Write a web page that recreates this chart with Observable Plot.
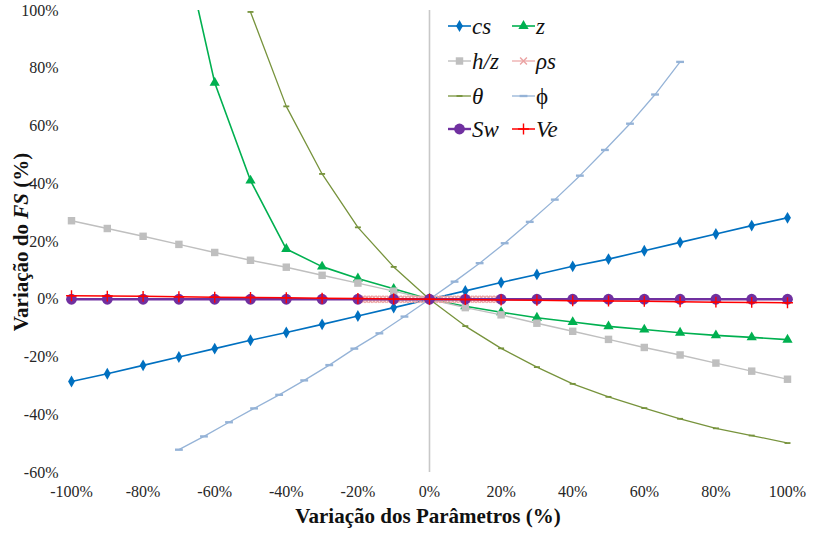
<!DOCTYPE html>
<html>
<head>
<meta charset="utf-8">
<script src="https://cdn.jsdelivr.net/npm/d3@7"></script>
<script src="https://cdn.jsdelivr.net/npm/@observablehq/plot@0.6"></script>
<style>
  html, body { margin: 0; padding: 0; background: #fff; }
  #chart { width: 813px; height: 533px; }
</style>
</head>
<body>
<div id="chart"></div>
<script>
// ---- Data ----
const xTicks = [-100, -80, -60, -40, -20, 0, 20, 40, 60, 80, 100];
const yTicks = [-60, -40, -20, 0, 20, 40, 60, 80, 100];

const x10 = [-100, -90, -80, -70, -60, -50, -40, -30, -20, -10, 0, 10, 20, 30, 40, 50, 60, 70, 80, 90, 100];
const csVals = [-28.5, -25.8, -22.9, -20.0, -17.1, -14.2, -11.5, -8.7, -5.8, -2.9, 0, 2.9, 5.8, 8.6, 11.4, 13.9, 16.8, 19.7, 22.6, 25.5, 28.2];
const hzVals = [27.2, 24.5, 21.8, 19.0, 16.2, 13.5, 11.1, 8.3, 5.6, 2.8, 0, -2.9, -5.4, -8.3, -11.1, -13.9, -16.7, -19.3, -22.1, -24.9, -27.7];
const swVals = [0, 0, 0, 0, 0, 0, 0, 0, 0, 0, 0, 0, 0, 0, 0, 0, 0, 0, 0, 0, 0];
const veVals = [1.2, 1.1, 1.0, 0.85, 0.7, 0.6, 0.5, 0.35, 0.25, 0.1, 0, -0.1, -0.25, -0.35, -0.5, -0.6, -0.7, -0.85, -1.0, -1.1, -1.2];

const zX = [-70, -60, -50, -40, -30, -20, -10, 0, 10, 20, 30, 40, 50, 60, 70, 80, 90, 100];
const zVals = [130, 75.0, 41.1, 17.4, 11.3, 7.2, 3.6, 0, -2.4, -4.5, -6.4, -7.9, -9.4, -10.5, -11.6, -12.5, -13.2, -14.0];

const thetaX = [-50, -40, -30, -20, -10, 0, 10, 20, 30, 40, 50, 60, 70, 80, 90, 100];
const thetaVals = [99.5, 66.8, 43.4, 24.9, 11.2, 0, -9.3, -17.0, -23.5, -29.3, -33.8, -37.7, -41.4, -44.7, -47.2, -49.8];

const phiX = [-70, -63, -56, -49, -42, -35, -28, -21, -14, -7, 0, 7, 14, 21, 28, 35, 42, 49, 56, 63, 70];
const phiVals = [-52.1, -47.5, -42.6, -37.8, -33.1, -28.1, -22.8, -17.1, -11.8, -6.0, 0, 6.1, 12.5, 19.4, 26.8, 34.5, 42.8, 51.7, 60.8, 70.9, 82.2];

const rhoX = [-20, -19, -18, -17, -16, -15, -14, -13, -12, -11, -10, -9, -8, -7, -6, -5, -4, -3, -2, -1, 0, 1, 2, 3, 4, 5, 6, 7, 8, 9, 10, 11, 12, 13, 14, 15, 16, 17, 18, 19, 20];
const rhoVals = [0, 0, 0, 0, 0, 0, 0, 0, 0, 0, 0, 0, 0, 0, 0, 0, 0, 0, 0, 0, 0, 0, 0, 0, 0, 0, 0, 0, 0, 0, 0, 0, 0, 0, 0, 0, 0, 0, 0, 0, 0];

// ---- Styles ----
const dash = { draw(ctx, size) { const w = Math.sqrt(size) * 1.3, h = Math.max(1.2, w * 0.3); ctx.rect(-w / 2, -h / 2, w, h); } };

const series = [
  { key: "cs",    label: "cs",  italic: true,  xs: x10,    ys: csVals,    color: "#0070C0", sw: 1.6, symbol: "diamond",  r: 3.6, fill: true },
  { key: "z",     label: "z",   italic: true,  xs: zX,     ys: zVals,     color: "#00B050", sw: 1.6, symbol: "triangle", r: 3.8, fill: true },
  { key: "hz",    label: "h/z", italic: true,  xs: x10,    ys: hzVals,    color: "#BFBFBF", sw: 1.4, symbol: "square",   r: 4.2, fill: true },
  { key: "rho",   label: "ρs",  italic: true,  xs: rhoX,   ys: rhoVals,   color: "#EBA3A3", sw: 1.2, symbol: "times",    r: 3.2, fill: false },
  { key: "theta", label: "θ",   italic: true,  xs: thetaX, ys: thetaVals, color: "#77933C", sw: 1.3, symbol: dash,       r: 2.6, fill: true },
  { key: "phi",   label: "ϕ",   italic: false, xs: phiX,   ys: phiVals,   color: "#95B3D7", sw: 1.3, symbol: dash,       r: 3.4, fill: true },
  { key: "sw",    label: "Sw",  italic: true,  xs: x10,    ys: swVals,    color: "#7030A0", sw: 2.4, symbol: "circle",   r: 5.4, fill: true },
  { key: "ve",    label: "Ve",  italic: true,  xs: x10,    ys: veVals,    color: "#FF0000", sw: 1.5, symbol: "plus",     r: 3.6, fill: false }
];

const marks = [
  Plot.ruleX([0], { stroke: "#C8C8C8", strokeWidth: 1.6 }),
  Plot.ruleY([0], { stroke: "#C8C8C8", strokeWidth: 1 })
];
for (const s of series) {
  const data = s.xs.map((x, i) => ({ x, y: s.ys[i] }));
  marks.push(Plot.line(data, { x: "x", y: "y", stroke: s.color, strokeWidth: s.sw, clip: true }));
  marks.push(Plot.dot(data.filter(d => d.y <= 100 && d.y >= -60), s.fill
    ? { x: "x", y: "y", symbol: () => s.symbol, r: s.r, fill: s.color, stroke: "none" }
    : { x: "x", y: "y", symbol: () => s.symbol, r: s.r, stroke: s.color, strokeWidth: 1.4, fill: "none" }));
}
marks.push(Plot.axisX({ ticks: xTicks, tickSize: 0, tickPadding: 13, tickFormat: d => d + "%", label: null, fontSize: 16 }));
marks.push(Plot.axisY({ ticks: yTicks, tickSize: 0, tickPadding: 13, tickFormat: d => d + "%", label: null, fontSize: 16 }));

const font = "Liberation Serif";

const chart = Plot.plot({
  width: 813,
  height: 533,
  marginLeft: 71,
  marginRight: 26,
  marginTop: 10,
  marginBottom: 61,
  x: { domain: [-100, 100] },
  y: { domain: [-60, 100] },
  symbol: { type: "identity" },
  style: { fontFamily: font, fontSize: "16px", color: "#262626", background: "#fff" },
  marks
});
document.getElementById("chart").appendChild(chart);

// ---- Titles & legend (added to the same SVG) ----
const svg = d3.select(chart);

svg.append("text")
  .attr("x", 428).attr("y", 523)
  .attr("text-anchor", "middle")
  .style("font-family", font).style("font-weight", "bold").style("font-size", "21px").attr("fill", "#111")
  .text("Variação dos Parâmetros (%)");

const yt = svg.append("text")
  .attr("transform", "translate(28,242) rotate(-90)")
  .attr("text-anchor", "middle")
  .style("font-family", font).style("font-weight", "bold").style("font-size", "21px").attr("fill", "#111");
yt.append("tspan").text("Variação do ");
yt.append("tspan").style("font-style", "italic").text("FS");
yt.append("tspan").text(" (%)");

const legend = svg.append("g");
const colX = [448, 512];
const rowY = [26, 61, 96, 129];
series.forEach((s, i) => {
  const cx = colX[i % 2], cy = rowY[Math.floor(i / 2)];
  const g = legend.append("g").attr("transform", `translate(${cx},${cy})`);
  g.append("line").attr("x1", 0).attr("x2", 23).attr("y1", 0).attr("y2", 0)
    .attr("stroke", s.color).attr("stroke-width", s.sw);
  const sym = typeof s.symbol === "string" ? ({ diamond: d3.symbolDiamond, triangle: d3.symbolTriangle, square: d3.symbolSquare, times: d3.symbolTimes, circle: d3.symbolCircle, plus: d3.symbolPlus })[s.symbol] : s.symbol;
  const p = g.append("path").attr("transform", "translate(11.5,0)")
    .attr("d", d3.symbol(sym, Math.PI * s.r * s.r)());
  if (s.fill) p.attr("fill", s.color); else p.attr("fill", "none").attr("stroke", s.color).attr("stroke-width", 1.4);
  g.append("text").attr("x", 24).attr("y", 0).attr("dy", "0.33em")
    .attr("text-anchor", "start")
    .style("font-family", font).style("font-size", "23px").attr("fill", "#111")
    .style("font-style", s.italic ? "italic" : "normal")
    .text(s.label);
});
</script>
</body>
</html>
